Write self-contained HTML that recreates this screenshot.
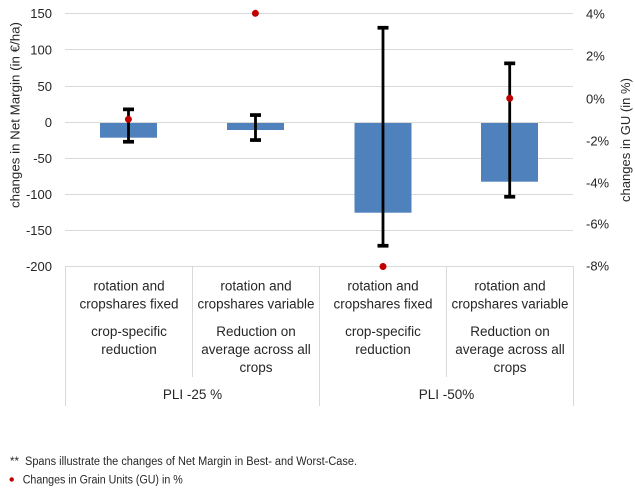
<!DOCTYPE html>
<html>
<head>
<meta charset="utf-8">
<style>
  html, body { margin:0; padding:0; background:#ffffff; }
  svg { display:block; }
  text { font-family: "Liberation Sans", "DejaVu Sans", sans-serif; fill:#262626; }
</style>
</head>
<body>
<svg width="635" height="500" viewBox="0 0 635 500" xmlns="http://www.w3.org/2000/svg">
  <rect x="0" y="0" width="635" height="500" fill="#ffffff"/>

  <!-- gridlines -->
  <g stroke="#d9d9d9" stroke-width="1">
    <line x1="65" y1="13.5" x2="573" y2="13.5"/>
    <line x1="65" y1="49.5" x2="573" y2="49.5"/>
    <line x1="65" y1="86.5" x2="573" y2="86.5"/>
    <line x1="65" y1="122.5" x2="573" y2="122.5"/>
    <line x1="65" y1="158.5" x2="573" y2="158.5"/>
    <line x1="65" y1="194.5" x2="573" y2="194.5"/>
    <line x1="65" y1="230.5" x2="573" y2="230.5"/>
    <line x1="65" y1="266.5" x2="573" y2="266.5"/>
    <!-- category table lines -->
    <line x1="65.5" y1="266" x2="65.5" y2="406"/>
    <line x1="192.5" y1="266" x2="192.5" y2="377"/>
    <line x1="319.5" y1="266" x2="319.5" y2="406"/>
    <line x1="446.5" y1="266" x2="446.5" y2="377"/>
    <line x1="573.5" y1="266" x2="573.5" y2="406"/>
  </g>

  <!-- bars -->
  <g fill="#4f81bd">
    <rect x="100" y="123" width="57" height="14.7"/>
    <rect x="227" y="123" width="57" height="7"/>
    <rect x="354.5" y="123" width="57" height="89.7"/>
    <rect x="481" y="123" width="57" height="58.7"/>
  </g>

  <!-- error bars -->
  <g stroke="#000000" stroke-width="2.8" fill="none">
    <line x1="128.5" y1="109.3" x2="128.5" y2="141.7"/>
    <line x1="255.5" y1="115" x2="255.5" y2="140"/>
    <line x1="383" y1="27.7" x2="383" y2="245.7"/>
    <line x1="509.7" y1="63.3" x2="509.7" y2="196.7"/>
  </g>
  <g fill="#000000">
    <rect x="123" y="107.5" width="11" height="3.7"/>
    <rect x="123" y="139.9" width="11" height="3.7"/>
    <rect x="250" y="113.2" width="11" height="3.7"/>
    <rect x="250" y="138.2" width="11" height="3.7"/>
    <rect x="377.5" y="25.9" width="11" height="3.7"/>
    <rect x="377.5" y="243.9" width="11" height="3.7"/>
    <rect x="504.2" y="61.5" width="11" height="3.7"/>
    <rect x="504.2" y="194.9" width="11" height="3.7"/>
  </g>

  <!-- GU dots -->
  <g fill="#c00000">
    <circle cx="128.4" cy="119.3" r="3.5"/>
    <circle cx="255.4" cy="13.3" r="3.5"/>
    <circle cx="383" cy="266.5" r="3.5"/>
    <circle cx="509.7" cy="98.3" r="3.5"/>
  </g>

  <!-- left tick labels -->
  <g font-size="13" text-anchor="end">
    <text x="52" y="18">150</text>
    <text x="52" y="54.5">100</text>
    <text x="52" y="91">50</text>
    <text x="52" y="127">0</text>
    <text x="52" y="163">-50</text>
    <text x="52" y="199">-100</text>
    <text x="52" y="235">-150</text>
    <text x="52" y="271">-200</text>
  </g>

  <!-- right tick labels -->
  <g font-size="13" text-anchor="start">
    <text x="586" y="18.5">4%</text>
    <text x="586" y="60.5">2%</text>
    <text x="586" y="103.5">0%</text>
    <text x="586" y="145.5">-2%</text>
    <text x="586" y="187.5">-4%</text>
    <text x="586" y="228.5">-6%</text>
    <text x="586" y="270.5">-8%</text>
  </g>

  <!-- axis titles -->
  <text font-size="13" text-anchor="middle" transform="translate(19.5,115) rotate(-90)" textLength="186" lengthAdjust="spacingAndGlyphs">changes in Net Margin (in €/ha)</text>
  <text font-size="13" text-anchor="middle" transform="translate(630,140) rotate(-90)" textLength="124" lengthAdjust="spacingAndGlyphs">changes in GU (in %)</text>

  <!-- category labels -->
  <g font-size="13.5" text-anchor="middle">
    <text x="129" y="290.3">rotation and</text>
    <text x="129" y="308.3">cropshares fixed</text>
    <text x="129" y="336">crop-specific</text>
    <text x="129" y="354">reduction</text>

    <text x="256" y="290.3">rotation and</text>
    <text x="256" y="308.3" textLength="117" lengthAdjust="spacingAndGlyphs">cropshares variable</text>
    <text x="256" y="336">Reduction on</text>
    <text x="256" y="354">average across all</text>
    <text x="256" y="372">crops</text>

    <text x="383" y="290.3">rotation and</text>
    <text x="383" y="308.3">cropshares fixed</text>
    <text x="383" y="336">crop-specific</text>
    <text x="383" y="354">reduction</text>

    <text x="510" y="290.3">rotation and</text>
    <text x="510" y="308.3" textLength="117" lengthAdjust="spacingAndGlyphs">cropshares variable</text>
    <text x="510" y="336">Reduction on</text>
    <text x="510" y="354">average across all</text>
    <text x="510" y="372">crops</text>

    <text x="192.5" y="399">PLI -25 %</text>
    <text x="446.5" y="399">PLI -50%</text>
  </g>

  <!-- footnotes -->
  <text x="10" y="465" font-size="11.5">**</text>
  <text x="25" y="465" font-size="11.5" textLength="332" lengthAdjust="spacingAndGlyphs">Spans illustrate the changes of Net Margin in Best- and Worst-Case.</text>
  <circle cx="11.7" cy="479.5" r="2.2" fill="#c00000"/>
  <text x="22.7" y="483.5" font-size="11.5" textLength="160" lengthAdjust="spacingAndGlyphs">Changes in Grain Units (GU) in %</text>
</svg>
</body>
</html>
